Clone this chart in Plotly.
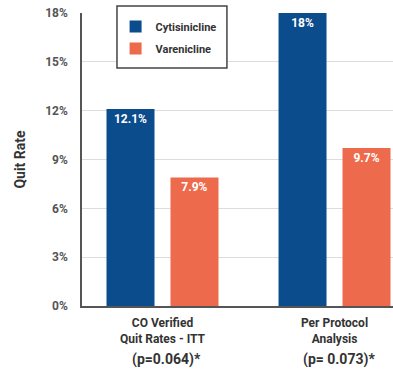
import plotly.graph_objects as go

# Quit rates by analysis population
categories = ["CO Verified<br>Quit Rates - ITT", "Per Protocol<br>Analysis"]
p_values = ["(p=0.064)*", "(p= 0.073)*"]
cytisinicline = [12.1, 18]
varenicline = [7.9, 9.7]
y_ticks = [0, 3, 6, 9, 12, 15, 18]

BLUE = "#0B4C8C"
ORANGE = "#EE6A4C"
FONT = "Roboto"

x_pos = list(range(len(categories)))

fig = go.Figure()
for name, vals, color in [("Cytisinicline", cytisinicline, BLUE),
                          ("Varenicline", varenicline, ORANGE)]:
    fig.add_trace(go.Bar(
        x=x_pos, y=vals, name=name, legendgroup=name,
        marker=dict(color=color, line=dict(width=0)),
        text=[f"{v:g}%" for v in vals],
        textposition="inside", insidetextanchor="end",
        textfont=dict(family=FONT, size=12, color="white", weight="bold"),
        cliponaxis=False,
    ))

for i, p in enumerate(p_values):
    fig.add_annotation(
        x=x_pos[i], y=-0.184, xref="x", yref="paper",
        text=p, showarrow=False, xshift=4,
        font=dict(family=FONT, size=14, color="#333", weight="bold"),
        yanchor="middle",
    )

# framed legend box with white fill
fig.add_shape(
    type="rect", xref="paper", yref="paper",
    x0=0.1125, x1=0.466, y0=0.812, y1=1.024,
    line=dict(color="#444", width=1.5), fillcolor="white", layer="above",
)

fig.update_layout(
    width=393, height=378,
    margin=dict(l=82, r=0, t=13, b=72),
    paper_bgcolor="white", plot_bgcolor="white",
    barmode="group", bargap=0.256, bargroupgap=0.25,
    font=dict(family=FONT, color="#333"),
    legend=dict(
        x=0.108, y=1.003, xanchor="left", yanchor="top",
        borderwidth=0, bgcolor="rgba(0,0,0,0)",
        font=dict(family=FONT, size=11, color="#333", weight="bold"),
        tracegroupgap=3,
    ),
    xaxis=dict(
        tickvals=x_pos, ticktext=categories,
        range=[-0.468, 1.34],
        showline=True, linecolor="#555", linewidth=1.5,
        showgrid=False, ticks="",
        tickfont=dict(family=FONT, size=12, color="#333", weight="bold"),
        ticklabelstandoff=5,
        fixedrange=True,
    ),
    yaxis=dict(
        range=[0, 18], tickvals=y_ticks,
        ticktext=[f"{t}%" for t in y_ticks],
        showline=True, linecolor="#555", linewidth=1.5,
        showgrid=True, gridcolor="#DDDDDD", gridwidth=1,
        zeroline=False, ticks="",
        tickfont=dict(family=FONT, size=12, color="#555", weight="bold"),
        ticklabelstandoff=10,
        title=dict(text="Quit Rate", standoff=16,
                   font=dict(family=FONT, size=14, color="#333", weight="bold")),
        fixedrange=True,
    ),
)

fig.write_html("out.html")
